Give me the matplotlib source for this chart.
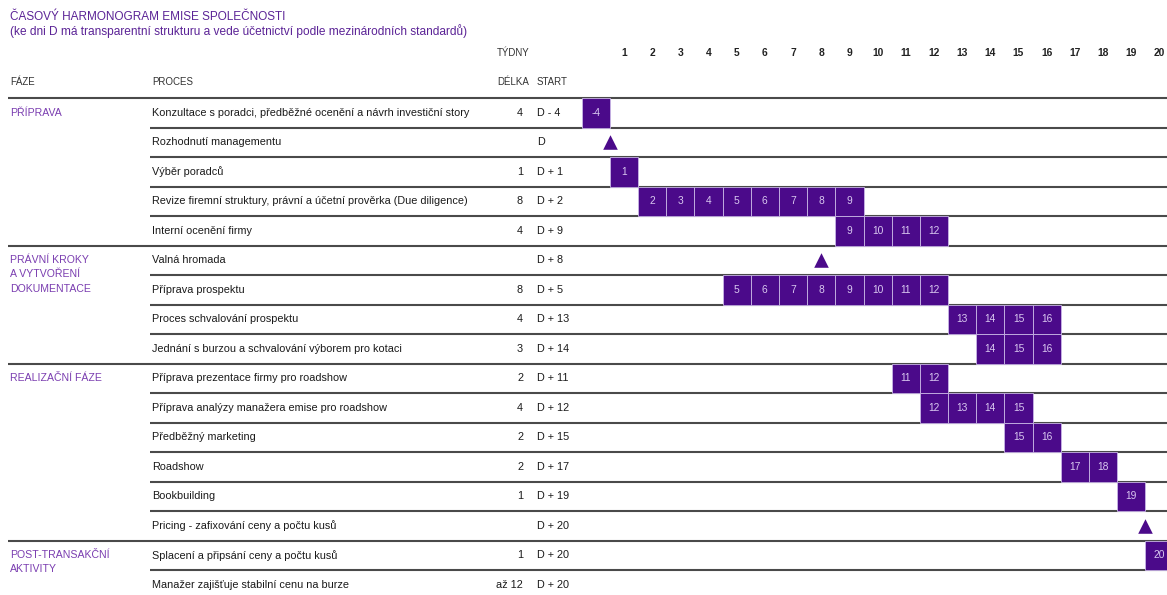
import matplotlib
matplotlib.use("Agg")
import matplotlib.pyplot as plt
from matplotlib.transforms import blended_transform_factory
from matplotlib.patches import Rectangle

plt.rcParams['font.family'] = ['Liberation Sans Narrow', 'Liberation Sans', 'DejaVu Sans']

# ---------------- data ----------------
title_1 = "ČASOVÝ HARMONOGRAM EMISE SPOLEČNOSTI"
title_2 = "(ke dni D má transparentní strukturu a vede účetnictví podle mezinárodních standardů)"

week_ticks = list(range(1, 21))

phases = ["PŘÍPRAVA", "PRÁVNÍ KROKY\nA VYTVOŘENÍ\nDOKUMENTACE", "REALIZAČNÍ FÁZE",
          "POST-TRANSAKČNÍ\nAKTIVITY"]
phase_first_row = [0, 5, 9, 15]

processes = [
    "Konzultace s poradci, předběžné ocenění a návrh investiční story",
    "Rozhodnutí managementu",
    "Výběr poradců",
    "Revize firemní struktury, právní a účetní prověrka (Due diligence)",
    "Interní ocenění firmy",
    "Valná hromada",
    "Příprava prospektu",
    "Proces schvalování prospektu",
    "Jednání s burzou a schvalování výborem pro kotaci",
    "Příprava prezentace firmy pro roadshow",
    "Příprava analýzy manažera emise pro roadshow",
    "Předběžný marketing",
    "Roadshow",
    "Bookbuilding",
    "Pricing - zafixování ceny a počtu kusů",
    "Splacení a připsání ceny a počtu kusů",
    "Manažer zajišťuje stabilní cenu na burze",
]
durations = ["4", "", "1", "8", "4", "", "8", "4", "3", "2", "4", "2", "2", "1", "", "1", "až 12"]
starts = ["D - 4", "D", "D + 1", "D + 2", "D + 9", "D + 8", "D + 5", "D + 13", "D + 14",
          "D + 11", "D + 12", "D + 15", "D + 17", "D + 19", "D + 20", "D + 20", "D + 20"]

# weeks shown as cells in each row (-4 is drawn in the column before week 1)
row_weeks = [
    [-4], [], [1], [2, 3, 4, 5, 6, 7, 8, 9], [9, 10, 11, 12], [],
    [5, 6, 7, 8, 9, 10, 11, 12], [13, 14, 15, 16], [14, 15, 16],
    [11, 12], [12, 13, 14, 15], [15, 16], [17, 18], [19], [], [20], [],
]

milestone_rows = [1, 5, 14]
milestone_weeks = [0.5, 8, 19.5]

# ---------------- style ----------------
W, H = 1167, 595
PURPLE = "#4b0a8a"
TXT_PURPLE = "#5b2396"
PHASE_PURPLE = "#7a3db0"
CELL_TXT = "#d9c8f0"

fig = plt.figure(figsize=(W / 100, H / 100), dpi=100)
top_px, bottom_px = 98, 595
left_px, right_px = 581.7, 1167
row_h = 29.5
ax = fig.add_axes([left_px / W, 0, (right_px - left_px) / W, (bottom_px - top_px) / H])
ax.set_xlim(-0.5, 20.27)
ax.set_ylim((bottom_px - top_px) / row_h, 0)
ax.axis("off")

bt = blended_transform_factory(fig.transFigure, ax.transData)
fx = lambda px: px / W
fy = lambda py: 1 - py / H

# titles
fig.text(fx(10), fy(17), title_1, color=TXT_PURPLE, fontsize=8.5, va="center", ha="left")
fig.text(fx(10), fy(31), title_2, color=TXT_PURPLE, fontsize=8.6, va="center", ha="left")
fig.text(fx(497), fy(53), "TÝDNY", color="#333333", fontsize=7, va="center", ha="left")
fig.text(fx(10), fy(82), "FÁZE", color="#333333", fontsize=7, va="center", ha="left")
fig.text(fx(152), fy(82), "PROCES", color="#333333", fontsize=7, va="center", ha="left")
fig.text(fx(529), fy(82), "DÉLKA", color="#333333", fontsize=7, va="center", ha="right")
fig.text(fx(537), fy(82), "START", color="#333333", fontsize=7, va="center", ha="left")

# week header numbers (data x, figure y)
bt2 = blended_transform_factory(ax.transData, fig.transFigure)
for w in week_ticks:
    ax.text(w, fy(53), str(w), transform=bt2, ha="center", va="center",
            fontsize=7.4, color="#222222", fontweight="bold", clip_on=False)

n_rows = len(processes)
# horizontal separator lines
for b in range(n_rows):
    x0 = fx(8) if b in phase_first_row else fx(150)
    ax.plot([x0, 1.0], [b, b], transform=bt, color="#4a4a4a", lw=1.5,
            clip_on=False, zorder=1, solid_capstyle="butt")

# phase labels
for name, r in zip(phases, phase_first_row):
    lines = name.split("\n")
    for k, ln in enumerate(lines):
        ax.text(fx(10), r + 0.5 + k * 0.48, ln, transform=bt, ha="left", va="center",
                fontsize=7.6, color=PHASE_PURPLE, clip_on=False)

# process rows
for i, (p, d, s) in enumerate(zip(processes, durations, starts)):
    yc = i + 0.5
    ax.text(fx(152), yc, p, transform=bt, ha="left", va="center", fontsize=7.8,
            color="#1a1a1a", clip_on=False)
    if d:
        ax.text(fx(523), yc, d, transform=bt, ha="right", va="center", fontsize=7.8,
                color="#1a1a1a", clip_on=False)
    ax.text(fx(537), yc, s, transform=bt, ha="left", va="center", fontsize=7.8,
            color="#1a1a1a", clip_on=False)
    for w in row_weeks[i]:
        col = w if w > 0 else 0
        ax.add_patch(Rectangle((col - 0.5, i), 1.0, 1.0, facecolor=PURPLE,
                               edgecolor="#c9b6e6", linewidth=0.6, zorder=3))
        ax.text(col, yc, str(w), ha="center", va="center", fontsize=7.4,
                color=CELL_TXT, zorder=4)

# milestones
ax.scatter(milestone_weeks, [r + 0.5 for r in milestone_rows], marker="^", s=110,
           color=PURPLE, zorder=4, linewidths=0, clip_on=False)

fig.savefig("out.png", dpi=100)
